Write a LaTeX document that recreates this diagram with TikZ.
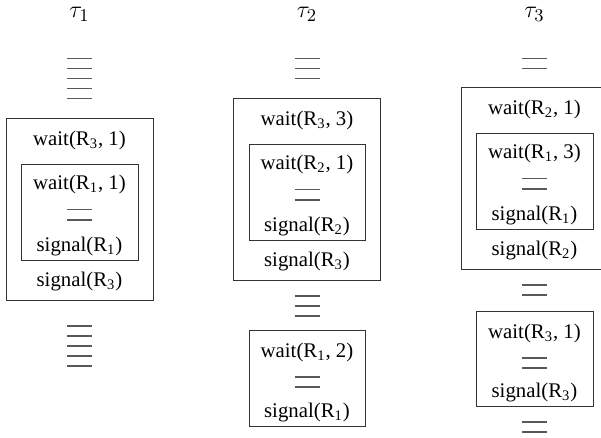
\documentclass[tikz,border=0pt]{standalone}
\usepackage{fontspec}
\setmainfont{Liberation Serif}

\tikzset{
  stmt/.style={inner sep=0pt, anchor=base, font=\fontsize{10.4}{12}\selectfont},
  tasklabel/.style={inner sep=0pt, anchor=base, font=\fontsize{13}{15}\selectfont},
  blockbox/.style={draw=black!80, line width=0.5pt},
  rulebar/.style={draw=black!65, line width=0.6pt},
}
\newcommand{\res}[1]{R\textsubscript{#1}}
\newcommand{\rulestack}[2]{%
  \foreach \ry in {#2} \draw[rulebar] (#1-12.5,\ry) -- (#1+12.5,\ry);}

\begin{document}
\begin{tikzpicture}[x=0.5pt,y=-0.5pt]
        \clip (0,0) rectangle (601,438);

        % ==========================================
        % Task labels
        % ==========================================
        \node[tasklabel] (tau1) at (79.5,17.5) {$\tau_1$};
        \node[tasklabel] (tau2) at (307,17.5) {$\tau_2$};
        \node[tasklabel] (tau3) at (534.5,17.5) {$\tau_3$};

        % ==========================================
        % Task 1
        % ==========================================
        \rulestack{79.5}{58.5,68.5,78.5,88.5,98.5}
        \draw[blockbox] (6,119) rectangle (153,301);
        \node[stmt] (w13) at (79.5,146) {wait(\res{3}, 1)};
        \draw[blockbox] (21,164.5) rectangle (138,261);
        \node[stmt] (w11) at (79.5,190) {wait(\res{1}, 1)};
        \rulestack{79.5}{209.5,220}
        \node[stmt] (s11) at (79.5,252) {signal(\res{1})};
        \node[stmt] (s13) at (79.5,287) {signal(\res{3})};
        \rulestack{79.5}{326,336,346,356,366}

        % ==========================================
        % Task 2
        % ==========================================
        \rulestack{307}{58.5,68.5,78.5}
        \draw[blockbox] (233,99) rectangle (380,281);
        \node[stmt] (w23) at (307,126) {wait(\res{3}, 3)};
        \draw[blockbox] (249,144.5) rectangle (365,241);
        \node[stmt] (w22) at (307,170) {wait(\res{2}, 1)};
        \rulestack{307}{189.5,200}
        \node[stmt] (s22) at (307,232) {signal(\res{2})};
        \node[stmt] (s23) at (307,267) {signal(\res{3})};
        \rulestack{307}{296,306,316}
        % second block
        \draw[blockbox] (249,331) rectangle (365,427);
        \node[stmt] (w21) at (307,358) {wait(\res{1}, 2)};
        \rulestack{307}{377,387}
        \node[stmt] (s21) at (307,418) {signal(\res{1})};

        % ==========================================
        % Task 3
        % ==========================================
        \rulestack{534.5}{58.5,68.5}
        \draw[blockbox] (461,88) rectangle (608,270);
        \node[stmt] (w32) at (534.5,115) {wait(\res{2}, 1)};
        \draw[blockbox] (476,133.5) rectangle (593,230);
        \node[stmt] (w31) at (534.5,159) {wait(\res{1}, 3)};
        \rulestack{534.5}{178.5,189}
        \node[stmt] (s31) at (534.5,221) {signal(\res{1})};
        \node[stmt] (s32) at (534.5,256) {signal(\res{2})};
        \rulestack{534.5}{285,295}
        % second block
        \draw[blockbox] (476,312) rectangle (593,407);
        \node[stmt] (w33) at (534.5,339) {wait(\res{3}, 1)};
        \rulestack{534.5}{358,368}
        \node[stmt] (s33) at (534.5,398) {signal(\res{3})};
        \rulestack{534.5}{422,432}

    \end{tikzpicture}
\end{document}
